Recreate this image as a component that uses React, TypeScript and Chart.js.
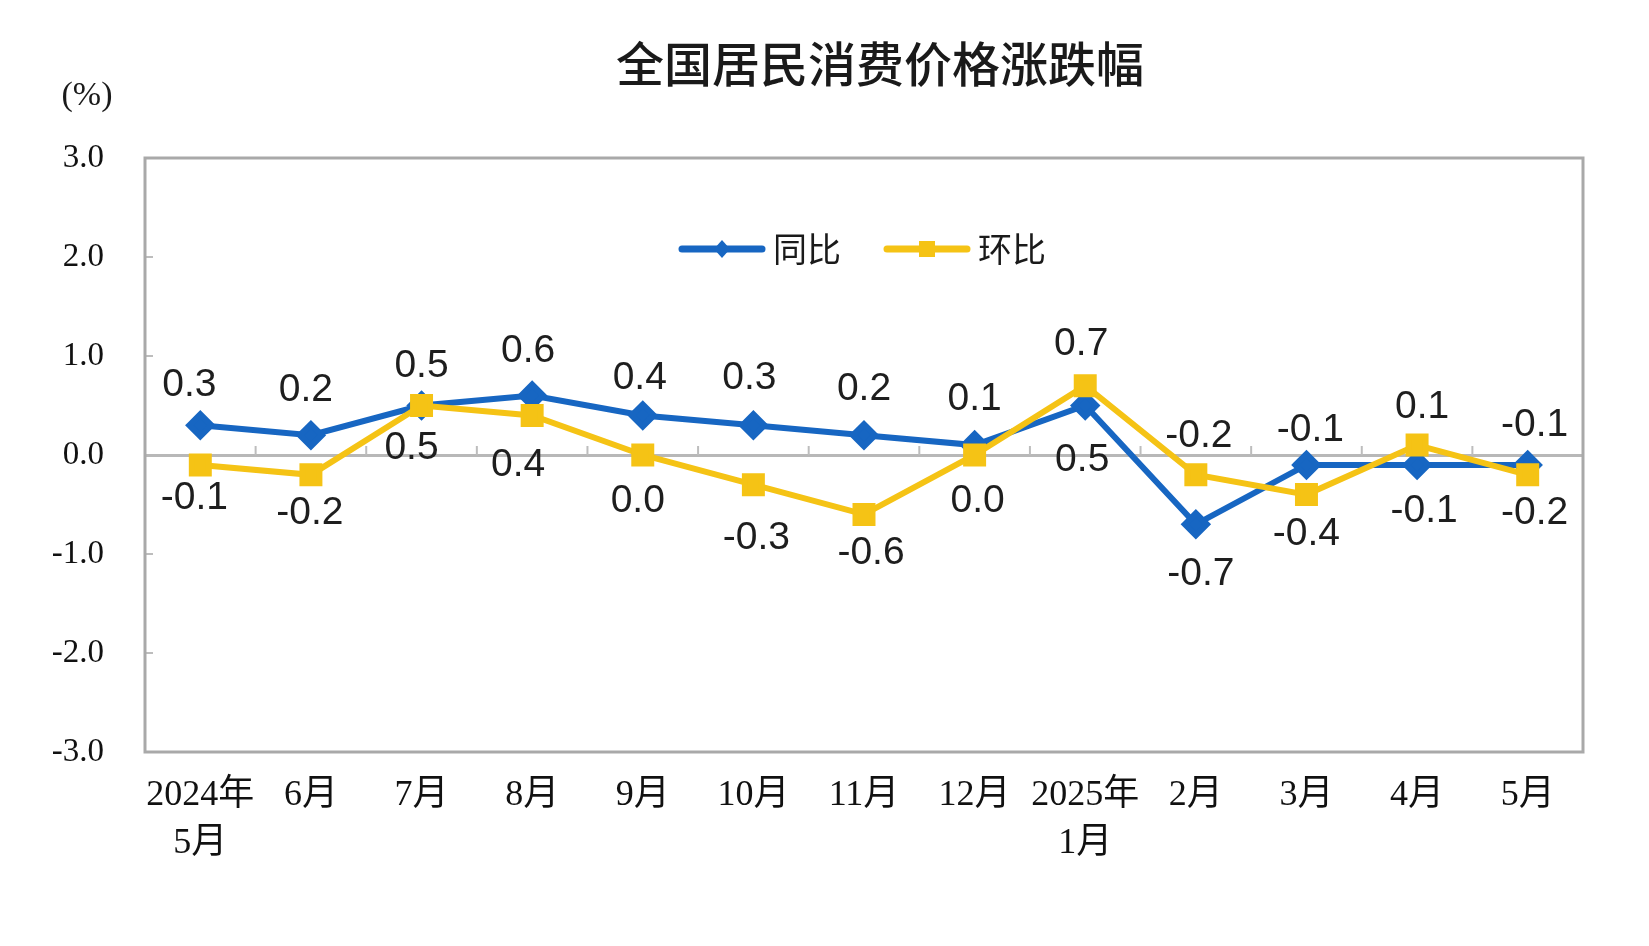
import React, { useEffect, useRef } from "react";
import { Chart, registerables } from "chart.js";

Chart.register(...registerables);

const months = [["2024年", "5月"], "6月", "7月", "8月", "9月", "10月", "11月", "12月", ["2025年", "1月"], "2月", "3月", "4月", "5月"];
const yoy = [0.3, 0.2, 0.5, 0.6, 0.4, 0.3, 0.2, 0.1, 0.5, -0.7, -0.1, -0.1, -0.1];
const mom = [-0.1, -0.2, 0.5, 0.4, 0.0, -0.3, -0.6, 0.0, 0.7, -0.2, -0.4, 0.1, -0.2];
const yMin = -3;
const yMax = 3;

// where each value label sits relative to its point (px)
const yoyLabelPos = [[-11, -40], [-5, -45], [0, -39], [-4, -44], [-3, -37], [-4, -47], [0, -46], [0, -46], [-3, 55], [5, 50], [4, -35], [7, 46], [7, -40]];
const momLabelPos = [[-6, 33], [-1, 38], [-10, 43], [-14, 50], [-5, 46], [3, 54], [7, 39], [3, 46], [-4, -41], [3, -39], [0, 40], [5, -38], [7, 38]];

const BLUE = "#1766c2";
const YELLOW = "#f5c315";
const FRAME = "#a9a9a9";
const CJK = '"Noto Sans CJK SC"';
const SERIF = '"Liberation Serif", "Noto Sans CJK SC"';

const decorPlugin = {
  id: "decor",
  beforeDatasetsDraw(chart: any) {
    const { ctx, chartArea: a, scales } = chart;
    const y0 = scales.y.getPixelForValue(0);
    ctx.save();
    // small ticks on the zero line at category boundaries
    ctx.strokeStyle = "#bdbdbd";
    ctx.lineWidth = 2;
    const step = (a.right - a.left) / months.length;
    for (let i = 1; i < months.length; i++) {
      const x = a.left + step * i;
      ctx.beginPath();
      ctx.moveTo(x, y0 - 9);
      ctx.lineTo(x, y0);
      ctx.stroke();
    }
    // inward ticks on the y axis
    for (let v = yMin + 1; v < yMax; v++) {
      if (v === 0) continue;
      const y = scales.y.getPixelForValue(v);
      ctx.beginPath();
      ctx.moveTo(a.left, y);
      ctx.lineTo(a.left + 8, y);
      ctx.stroke();
    }
    // frame
    ctx.strokeStyle = FRAME;
    ctx.lineWidth = 3;
    ctx.strokeRect(a.left, a.top, a.right - a.left, a.bottom - a.top);
    ctx.restore();
  },
  afterDatasetsDraw(chart: any) {
    const { ctx } = chart;
    ctx.save();
    ctx.font = '39px "Liberation Sans"';
    ctx.fillStyle = "#1e1e1e";
    ctx.textAlign = "center";
    ctx.textBaseline = "middle";
    const sets = [
      { idx: 0, pos: yoyLabelPos, data: yoy },
      { idx: 1, pos: momLabelPos, data: mom },
    ];
    sets.forEach(({ idx, pos, data }) => {
      const meta = chart.getDatasetMeta(idx);
      meta.data.forEach((pt: any, i: number) => {
        ctx.fillText(data[i].toFixed(1), pt.x + pos[i][0], pt.y + pos[i][1]);
      });
    });
    ctx.restore();
  },
  afterDraw(chart: any) {
    const { ctx } = chart;
    ctx.save();
    ctx.fillStyle = "#1a1a1a";
    ctx.textAlign = "center";
    ctx.textBaseline = "middle";
    ctx.font = `500 48px ${CJK}`;
    ctx.fillText("全国居民消费价格涨跌幅", 880, 64);
    ctx.font = `34px ${SERIF}`;
    ctx.fillText("(%)", 87, 96);

    // legend
    const ly = 249;
    const items = [
      { x: 682, color: BLUE, label: "同比", diamond: true },
      { x: 887, color: YELLOW, label: "环比", diamond: false },
    ];
    items.forEach((it) => {
      ctx.strokeStyle = it.color;
      ctx.fillStyle = it.color;
      ctx.lineWidth = 7;
      ctx.lineCap = "round";
      ctx.beginPath();
      ctx.moveTo(it.x, ly);
      ctx.lineTo(it.x + 80, ly);
      ctx.stroke();
      const cx = it.x + 40;
      ctx.beginPath();
      if (it.diamond) {
        ctx.moveTo(cx, ly - 9);
        ctx.lineTo(cx + 8, ly);
        ctx.lineTo(cx, ly + 9);
        ctx.lineTo(cx - 8, ly);
        ctx.closePath();
        ctx.fill();
      } else {
        ctx.fillRect(cx - 8, ly - 8, 16, 16);
      }
      ctx.fillStyle = "#1a1a1a";
      ctx.textAlign = "left";
      ctx.font = `34px ${CJK}`;
      ctx.fillText(it.label, it.x + 91, ly);
    });
    ctx.restore();
  },
};

export default function App() {
  const canvasRef = useRef<HTMLCanvasElement>(null);
  const chartRef = useRef<Chart | null>(null);

  useEffect(() => {
    if (!canvasRef.current) return;
    if (chartRef.current) chartRef.current.destroy();

    chartRef.current = new Chart(canvasRef.current, {
      type: "line",
      data: {
        labels: months,
        datasets: [
          {
            label: "同比",
            data: yoy,
            borderColor: BLUE,
            backgroundColor: BLUE,
            borderWidth: 6,
            pointStyle: "rectRot",
            pointRadius: 11,
            tension: 0,
            order: 1,
          },
          {
            label: "环比",
            data: mom,
            borderColor: YELLOW,
            backgroundColor: YELLOW,
            borderWidth: 6,
            pointStyle: "rect",
            pointRadius: 12,
            tension: 0,
            order: 0,
          },
        ],
      },
      options: {
        responsive: true,
        maintainAspectRatio: false,
        animation: false,
        layout: { padding: { top: 158, right: 66, left: 0, bottom: 0 } },
        plugins: {
          legend: { display: false },
          title: { display: false },
          tooltip: { enabled: false },
        },
        scales: {
          x: {
            offset: true,
            grid: { display: false },
            border: { display: false },
            ticks: {
              autoSkip: false,
              maxRotation: 0,
              padding: 12,
              color: "#111",
              font: { family: SERIF, size: 36, lineHeight: 1.32 },
            },
            afterFit: (scale: any) => {
              scale.height = 194;
            },
          },
          y: {
            min: yMin,
            max: yMax,
            ticks: {
              stepSize: 1,
              padding: 41,
              color: "#111",
              font: { family: SERIF, size: 33 },
              callback: (v: any) => Number(v).toFixed(1),
            },
            grid: {
              drawTicks: false,
              lineWidth: 3,
              color: (c: any) => (c.tick && c.tick.value === 0 ? "#b8b8b8" : "rgba(0,0,0,0)"),
            },
            border: { display: false },
            afterFit: (scale: any) => {
              scale.width = 145;
            },
          },
        },
      },
      plugins: [decorPlugin],
    });

    return () => {
      if (chartRef.current) {
        chartRef.current.destroy();
        chartRef.current = null;
      }
    };
  }, []);

  return (
    <div style={{ position: "fixed", left: 0, top: 0, width: 1649, height: 946, background: "#fff" }}>
      <canvas ref={canvasRef} />
    </div>
  );
}
